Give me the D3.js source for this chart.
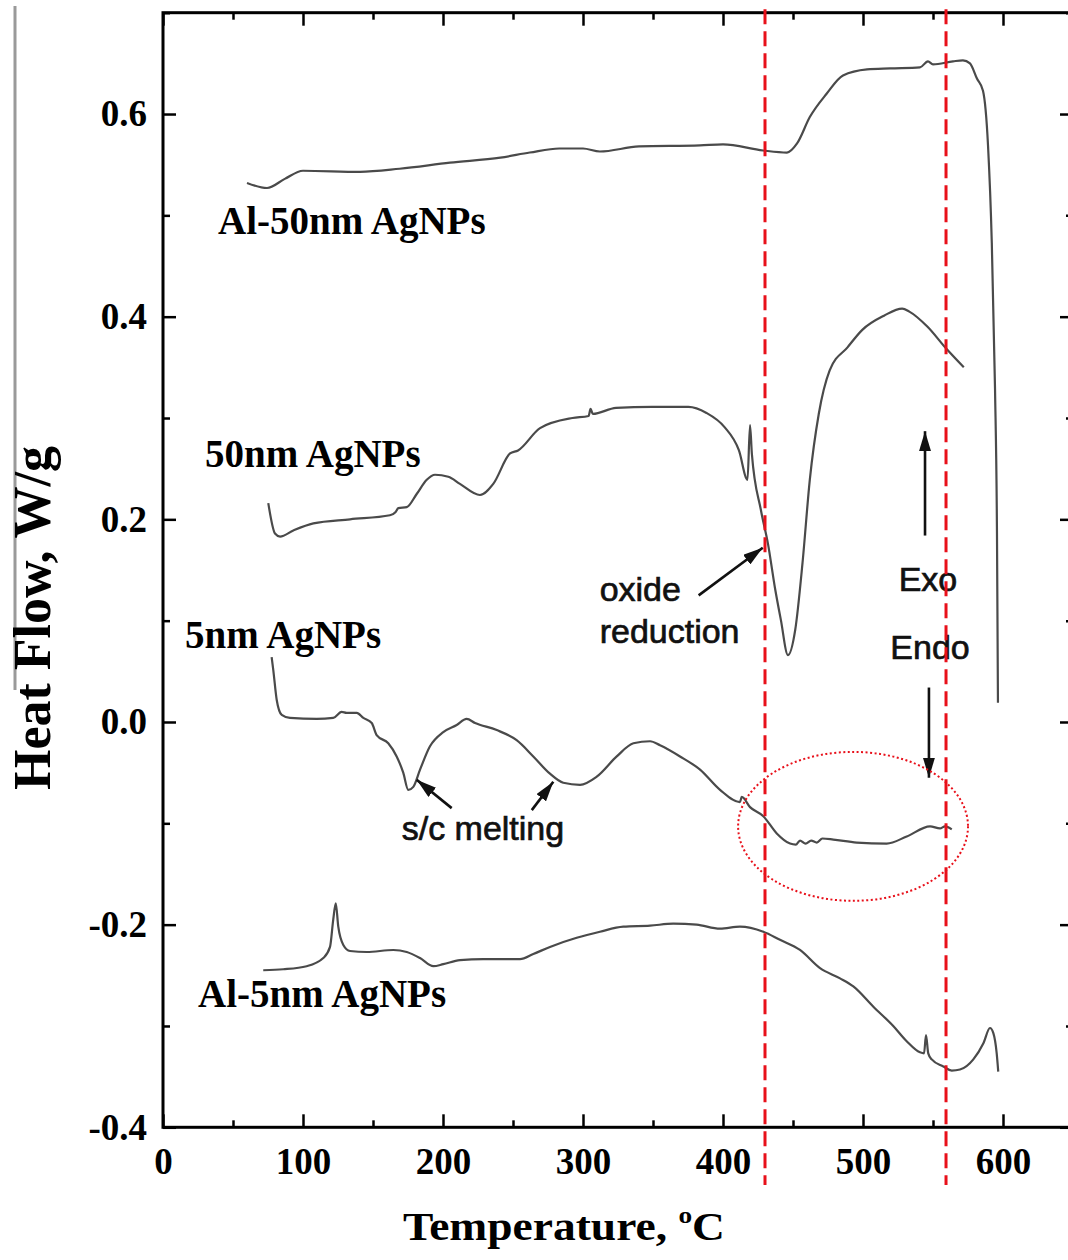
<!DOCTYPE html>
<html>
<head>
<meta charset="utf-8">
<script src="https://cdn.jsdelivr.net/npm/d3@7"></script>
<style>
  body { margin: 0; background: #fff; }
  svg { display: block; }
  .tick text { font-family: "Liberation Serif", "Times New Roman", serif; font-weight: bold; font-size: 37px; fill: #000; }
  .tick line { stroke: #000; stroke-width: 2.5; }
</style>
</head>
<body>
<div id="chart"></div>
<script>
// DSC traces: [temperature (°C), heat flow (W/g)]
const al50nm = [
  [60,0.532],[74.3,0.527],[87,0.536],[100,0.544],[140.7,0.543],[169,0.546],[205,0.552],
  [241,0.557],[262,0.562],[283,0.566],[300,0.566],[312,0.563],[340,0.568],[383.6,0.569],
  [400,0.570],[428.6,0.564],[445.7,0.562],[452.9,0.571],[462,0.597],[474,0.620],[485.7,0.638],
  [502.9,0.644],[519.3,0.645],[540.7,0.646],[546.4,0.652],[550,0.649],[564.3,0.652],
  [571.4,0.653],[576.4,0.650],[581.4,0.635],[585.7,0.623],[589.3,0.569],[592,0.473],
  [594.3,0.329],[595.7,0.186],[596.4,0.019]
];
const ag50nm = [
  [75.2,0.216],[80,0.186],[83.6,0.183],[93.1,0.189],[107.4,0.196],[133.6,0.200],[162.1,0.204],
  [166,0.207],[168.1,0.211],[174.1,0.212],[181.2,0.225],[188.4,0.239],[194.3,0.244],[203.8,0.242],
  [212.1,0.235],[226.4,0.224],[235.9,0.235],[247.9,0.265],[253.6,0.268],[269.3,0.290],
  [292.5,0.300],[304,0.302],[305.4,0.309],[307,0.304],[323.6,0.310],[349.3,0.311],[375.3,0.311],
  [388.2,0.305],[401.1,0.291],[411.4,0.268],[417.5,0.239],[419.3,0.293],[420.6,0.265],
  [427.1,0.209],[432.1,0.176],[437.4,0.130],[441.3,0.101],[446.4,0.066],[451.6,0.091],
  [456.8,0.157],[462,0.239],[468.4,0.304],[476.2,0.347],[489.1,0.370],[499.5,0.387],
  [515,0.401],[528,0.408],[533.1,0.405],[546.1,0.390],[559.1,0.369],[572,0.350]
];
const ag5nm = [
  [77.6,0.064],[78.8,0.051],[81.2,0.022],[84.8,0.007],[90.7,0.004],[109.8,0.003],[121.6,0.004],
  [127.6,0.010],[131.2,0.009],[138.4,0.009],[143.1,0.004],[149.1,-0.001],[152.6,-0.013],
  [160.9,-0.021],[166.9,-0.034],[171.6,-0.050],[175.2,-0.067],[178.8,-0.064],[183.6,-0.047],
  [190.7,-0.024],[200.2,-0.010],[209.8,-0.003],[216.9,0.003],[222.9,-0.001],[238.4,-0.008],
  [252.6,-0.018],[264.5,-0.034],[276.4,-0.051],[285.9,-0.060],[297.9,-0.062],[309.8,-0.054],
  [324.1,-0.034],[336,-0.021],[347.9,-0.019],[355,-0.023],[369.3,-0.034],[383.6,-0.047],
  [397.9,-0.067],[412.1,-0.079],[413.4,-0.074],[419.3,-0.084],[428.8,-0.093],[438.4,-0.110],
  [447.9,-0.120],[452,-0.121],[455,-0.117],[459,-0.120],[463,-0.117],[467,-0.119],[471,-0.115],
  [478.8,-0.116],[495.5,-0.119],[516.9,-0.120],[531.2,-0.113],[547.9,-0.103],[555,-0.105],
  [558.6,-0.103],[563.4,-0.106]
];
const al5nm = [
  [71.6,-0.245],[85.9,-0.244],[102.6,-0.241],[114.5,-0.233],[119.3,-0.222],[121.6,-0.195],
  [123.4,-0.179],[125.2,-0.202],[128.8,-0.220],[133.6,-0.226],[145.5,-0.227],[164.5,-0.225],
  [174.1,-0.227],[183.6,-0.233],[193.1,-0.241],[200.2,-0.239],[212.1,-0.235],[228.8,-0.234],
  [255,-0.234],[264.5,-0.229],[276.4,-0.222],[295.5,-0.213],[312.1,-0.207],[328.8,-0.202],
  [347.9,-0.201],[364.5,-0.199],[381.2,-0.200],[397.9,-0.204],[412.1,-0.202],[428.8,-0.207],
  [440.7,-0.215],[455,-0.225],[469.3,-0.243],[483.6,-0.253],[493.1,-0.261],[507.4,-0.281],
  [521.6,-0.300],[531.2,-0.315],[540.7,-0.326],[543.6,-0.327],[545,-0.309],[546.6,-0.327],
  [549.1,-0.333],[557.4,-0.340],[563.4,-0.344],[569.3,-0.343],[578.8,-0.333],[586,-0.317],
  [590.7,-0.302],[593.1,-0.307],[595.5,-0.327],[596.6,-0.345]
];

const xMajor = [0, 100, 200, 300, 400, 500, 600];
const xMinor = [50, 150, 250, 350, 450, 550, 650];
const yMajor = [-0.4, -0.2, 0, 0.2, 0.4, 0.6];
const yMinor = [-0.3, -0.1, 0.1, 0.3, 0.5, 0.7];

// series name labels, anchored at their left baseline
const seriesLabels = [
  { text: "Al-50nm AgNPs", x: 39.3, y: 0.482 },
  { text: "50nm AgNPs", x: 30, y: 0.252 },
  { text: "5nm AgNPs", x: 15.7, y: 0.073 },
  { text: "Al-5nm AgNPs", x: 25, y: -0.281 }
];
// note texts
const notes = [
  { text: "oxide", x: 311.9, y: 0.119, anchor: "start" },
  { text: "reduction", x: 311.9, y: 0.078, anchor: "start" },
  { text: "Exo", x: 546.4, y: 0.129, anchor: "middle" },
  { text: "Endo", x: 547.9, y: 0.062, anchor: "middle" },
  { text: "s/c melting", x: 170.5, y: -0.116, anchor: "start" }
];
// arrows: tail -> tip
const arrows = [
  [[382.6, 0.125], [428.4, 0.172]],
  [[544.3, 0.184], [544.3, 0.287]],
  [[547.1, 0.034], [547.1, -0.055]],
  [[206.2, -0.085], [181.2, -0.057]],
  [[263.4, -0.087], [278.8, -0.059]]
];
const guideTemps = [430, 559.3];
const circled = { x: 492.9, y: -0.103, rx: 82.1, ry: 0.0735 };

const width = 1068, height = 1260;
const svg = d3.select("#chart").append("svg")
  .attr("width", width).attr("height", height);

const x = d3.scaleLinear().domain([0, 650]).range([163, 1073]);
const y = d3.scaleLinear().domain([-0.4, 0.7]).range([1127.3, 12.7]);

// leftover border line at the far left
svg.append("line")
  .attr("x1", 15).attr("x2", 15).attr("y1", 6).attr("y2", 690)
  .style("stroke", "#9a9a9a").style("stroke-width", 3);

// axes, ticks inward
const gBottom = svg.append("g").attr("transform", "translate(0," + y(-0.4) + ")");
gBottom.call(d3.axisBottom(x).tickValues(xMajor).tickSizeInner(-13).tickSizeOuter(0).tickPadding(20));
gBottom.append("g").call(d3.axisBottom(x).tickValues(xMinor).tickSizeInner(-7).tickSizeOuter(0).tickFormat(""));

const gTop = svg.append("g").attr("transform", "translate(0," + y(0.7) + ")");
gTop.call(d3.axisTop(x).tickValues(xMajor).tickSizeInner(-13).tickSizeOuter(0).tickFormat(""));
gTop.append("g").call(d3.axisTop(x).tickValues(xMinor).tickSizeInner(-7).tickSizeOuter(0).tickFormat(""));

const gLeft = svg.append("g").attr("transform", "translate(" + x(0) + ",0)");
gLeft.call(d3.axisLeft(y).tickValues(yMajor).tickSizeInner(-13).tickSizeOuter(0).tickPadding(16)
  .tickFormat(d => d.toFixed(1)));
gLeft.append("g").call(d3.axisLeft(y).tickValues(yMinor).tickSizeInner(-7).tickSizeOuter(0).tickFormat(""));

const gRight = svg.append("g").attr("transform", "translate(" + x(650) + ",0)");
gRight.call(d3.axisRight(y).tickValues(yMajor).tickSizeInner(-13).tickSizeOuter(0).tickFormat(""));
gRight.append("g").call(d3.axisRight(y).tickValues(yMinor).tickSizeInner(-7).tickSizeOuter(0).tickFormat(""));

svg.selectAll(".domain").remove();
svg.append("rect")
  .attr("x", x(0)).attr("y", y(0.7))
  .attr("width", x(650) - x(0)).attr("height", y(-0.4) - y(0.7))
  .style("fill", "none").style("stroke", "#000").style("stroke-width", 3);

// axis titles
svg.append("text")
  .attr("transform", "translate(50,618) rotate(-90)")
  .attr("text-anchor", "middle")
  .attr("textLength", 344).attr("lengthAdjust", "spacingAndGlyphs")
  .style("font-family", '"Liberation Serif", "Times New Roman", serif')
  .style("font-weight", "bold").style("font-size", "52px")
  .text("Heat Flow, W/g");

const xt = svg.append("text")
  .attr("x", 403).attr("y", 1240)
  .attr("textLength", 322).attr("lengthAdjust", "spacingAndGlyphs")
  .style("font-family", '"Liberation Serif", "Times New Roman", serif')
  .style("font-weight", "bold").style("font-size", "40px");
xt.append("tspan").text("Temperature, ");
xt.append("tspan").attr("dy", -17).style("font-size", "24px").text("o");
xt.append("tspan").attr("dy", 17).text("C");

// traces
const line = d3.line().curve(d3.curveMonotoneX).x(d => x(d[0])).y(d => y(d[1]));
svg.selectAll(".trace")
  .data([al50nm, ag50nm, ag5nm, al5nm])
  .enter().append("path")
  .attr("class", "trace")
  .attr("d", line)
  .style("fill", "none").style("stroke", "#4a4a4a").style("stroke-width", 2.2)
  .style("stroke-linejoin", "round");

svg.selectAll(".slabel")
  .data(seriesLabels)
  .enter().append("text")
  .attr("class", "slabel")
  .attr("x", d => x(d.x)).attr("y", d => y(d.y))
  .style("font-family", '"Liberation Serif", "Times New Roman", serif')
  .style("font-weight", "bold").style("font-size", "39px")
  .text(d => d.text);

svg.selectAll(".note")
  .data(notes)
  .enter().append("text")
  .attr("class", "note")
  .attr("x", d => x(d.x)).attr("y", d => y(d.y))
  .attr("text-anchor", d => d.anchor)
  .style("font-family", '"Liberation Sans", Arial, sans-serif')
  .style("font-size", "34px").style("fill", "#111")
  .style("stroke", "#111").style("stroke-width", 0.7)
  .text(d => d.text);

svg.append("defs").append("marker")
  .attr("id", "head").attr("viewBox", "0 0 10 10")
  .attr("refX", 10).attr("refY", 5)
  .attr("markerWidth", 20).attr("markerHeight", 12)
  .attr("markerUnits", "userSpaceOnUse").attr("orient", "auto")
  .attr("preserveAspectRatio", "none")
  .append("path").attr("d", "M0,0L10,5L0,10Z").style("fill", "#111");

svg.selectAll(".arrow")
  .data(arrows)
  .enter().append("line")
  .attr("class", "arrow")
  .attr("x1", d => x(d[0][0])).attr("y1", d => y(d[0][1]))
  .attr("x2", d => x(d[1][0])).attr("y2", d => y(d[1][1]))
  .style("stroke", "#111").style("stroke-width", 2.6)
  .attr("marker-end", "url(#head)");

// red guides
svg.selectAll(".guide")
  .data(guideTemps)
  .enter().append("line")
  .attr("class", "guide")
  .attr("x1", d => x(d)).attr("x2", d => x(d))
  .attr("y1", y(0.7035)).attr("y2", y(-0.457))
  .style("stroke", "#e8101a").style("stroke-width", 3)
  .style("stroke-dasharray", "15 7");

svg.append("ellipse")
  .attr("cx", x(circled.x)).attr("cy", y(circled.y))
  .attr("rx", x(circled.rx) - x(0)).attr("ry", y(0) - y(circled.ry))
  .style("fill", "none").style("stroke", "#e8101a").style("stroke-width", 2)
  .style("stroke-dasharray", "2 2.5");
</script>
</body>
</html>
